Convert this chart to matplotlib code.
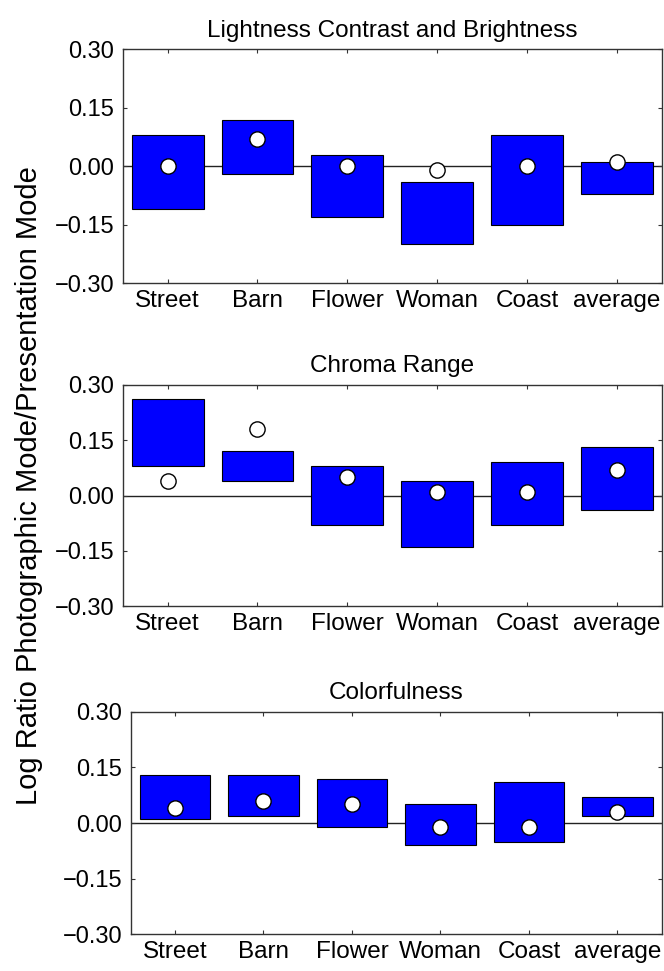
import numpy as np
import matplotlib
matplotlib.use('Agg')
import matplotlib.pyplot as plt

plt.rcParams['font.family'] = ['Liberation Sans', 'DejaVu Sans']

images = ['Street', 'Barn', 'Flower', 'Woman', 'Coast', 'average']
titles = ['Lightness Contrast and Brightness', 'Chroma Range', 'Colorfulness']

# lower / upper edge of each box and the circle value
lightness_low = [-0.11, -0.02, -0.13, -0.20, -0.15, -0.07]
lightness_high = [0.08, 0.12, 0.03, -0.04, 0.08, 0.01]
lightness_mid = [0.00, 0.07, 0.00, -0.01, 0.00, 0.01]

chroma_low = [0.08, 0.04, -0.08, -0.14, -0.08, -0.04]
chroma_high = [0.26, 0.12, 0.08, 0.04, 0.09, 0.13]
chroma_mid = [0.04, 0.18, 0.05, 0.01, 0.01, 0.07]

colorful_low = [0.01, 0.02, -0.01, -0.06, -0.05, 0.02]
colorful_high = [0.13, 0.13, 0.12, 0.05, 0.11, 0.07]
colorful_mid = [0.04, 0.06, 0.05, -0.01, -0.01, 0.03]

yticks = [-0.30, -0.15, 0.00, 0.15, 0.30]

panels = [
    (lightness_low, lightness_high, lightness_mid),
    (chroma_low, chroma_high, chroma_mid),
    (colorful_low, colorful_high, colorful_mid),
]
positions = [
    [0.1848, 0.7082, 0.8117, 0.2410],
    [0.1848, 0.3756, 0.8117, 0.2282],
    [0.1968, 0.0378, 0.7997, 0.2292],
]

fig = plt.figure(figsize=(6.64, 9.71), dpi=100)
x = np.arange(1, len(images) + 1)

for (low, high, mid), pos, title in zip(panels, positions, titles):
    ax = fig.add_axes(pos)
    low = np.array(low)
    high = np.array(high)
    ax.axhline(0, color='#222222', lw=1.0, zorder=1)
    ax.bar(x, high - low, bottom=low, width=0.8, color='#0000ff',
           edgecolor='black', linewidth=0.8, zorder=2)
    ax.plot(x, mid, 'o', ms=11, mfc='white', mec='black', mew=1.0, zorder=3)
    ax.set_xlim(0.5, 6.5)
    ax.set_ylim(-0.30, 0.30)
    ax.set_xticks(x)
    ax.set_xticklabels(images, fontsize=17.5)
    ax.set_yticks(yticks)
    ax.set_yticklabels(['%.2f' % v if v >= 0 else '\u2212%.2f' % -v for v in yticks], fontsize=17)
    ax.tick_params(direction='in', length=3, width=0.8, top=True, right=True,
                   colors='#333333', labelcolor='black')
    ax.tick_params(axis='x', pad=5)
    ax.tick_params(axis='y', pad=6)
    for s in ax.spines.values():
        s.set_linewidth(1.0)
        s.set_color('#333333')
    ax.set_title(title, fontsize=17.5, pad=9)

fig.text(0.043, 0.50, 'Log Ratio Photographic Mode/Presentation Mode',
         rotation=90, ha='center', va='center', fontsize=21)

fig.savefig('out.png', dpi=100)
